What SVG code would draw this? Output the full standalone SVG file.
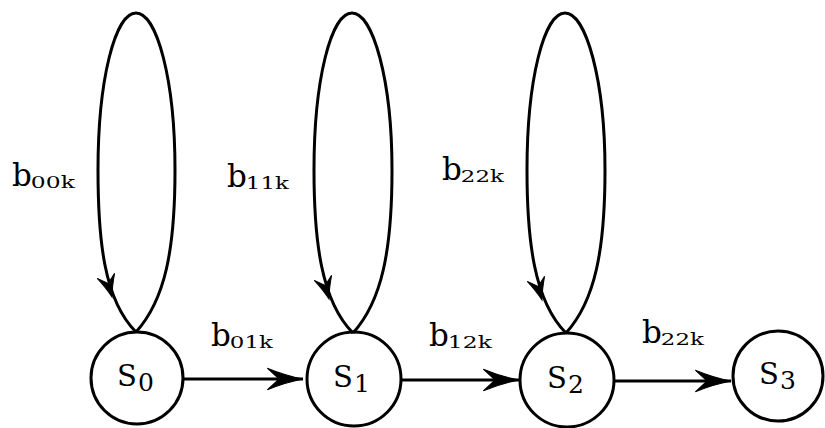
<svg xmlns="http://www.w3.org/2000/svg" xmlns:xlink="http://www.w3.org/1999/xlink" width="825" height="428" viewBox="0 0 825 428">
<defs>
<style>
.node{fill:none;stroke:#000;stroke-width:3}
.edge{fill:none;stroke:#000;stroke-width:3}
.lbl{font-family:"DejaVu Serif",serif;font-size:31px;fill:#000}
.sub{font-size:17px}
.nlbl{font-family:"DejaVu Serif",serif;font-size:29px;fill:#000}
.nsub{font-size:25px}
.head{fill:#000;stroke:#000;stroke-width:1}
</style>
<marker id="arr" markerUnits="userSpaceOnUse" markerWidth="40" markerHeight="30" viewBox="-35 -12 37 24" refX="0" refY="0" orient="auto">
<path class="head" d="M0,0 Q-16,-3 -33,-10 L-22,0 L-33,10 Q-16,3 0,0Z"/>
</marker>
<path id="lh" class="head" d="M0,0 Q-10,-3 -22,-9 L-14,0 L-22,9 Q-10,3 0,0Z"/>
</defs>
<g id="connectors">
<path id="loop0" class="edge" d="M136,332 C104,300 98,240 98,170 C98,80 115,13 136,13 C157,13 175,80 175,170 C175,250 165,300 136,332"/>
<use xlink:href="#lh" href="#lh" transform="translate(112,297) rotate(74)"/>
<path id="loop1" class="edge" d="M353,333 C321,301 314,240 314,170 C314,80 331,13 352,13 C373,13 392,80 392,170 C392,250 382,301 353,333"/>
<use xlink:href="#lh" href="#lh" transform="translate(329,299) rotate(74)"/>
<path id="loop2" class="edge" d="M566,333 C534,301 527,240 527,170 C527,80 544,13 565,13 C586,13 605,80 605,170 C605,250 595,301 566,333"/>
<use xlink:href="#lh" href="#lh" transform="translate(542,300) rotate(74)"/>
<path id="e01" class="edge" d="M184,379 L303,379" marker-end="url(#arr)"/>
<path id="e12" class="edge" d="M401,380 L519,380" marker-end="url(#arr)"/>
<path id="e23" class="edge" d="M614,381 L731,381" marker-end="url(#arr)"/>
</g>
<g id="labels">
<text class="lbl" x="12" y="186">b<tspan class="sub" dx="-1" dy="2" textLength="44" lengthAdjust="spacingAndGlyphs">00k</tspan></text>
<text class="lbl" x="227" y="187">b<tspan class="sub" dx="-1" dy="2" textLength="43" lengthAdjust="spacingAndGlyphs">11k</tspan></text>
<text class="lbl" x="442" y="180">b<tspan class="sub" dx="-1" dy="2" textLength="43" lengthAdjust="spacingAndGlyphs">22k</tspan></text>
<text class="lbl" x="211" y="346">b<tspan class="sub" dx="-1" dy="2" textLength="43" lengthAdjust="spacingAndGlyphs">01k</tspan></text>
<text class="lbl" x="429" y="346">b<tspan class="sub" dx="-1" dy="2" textLength="44" lengthAdjust="spacingAndGlyphs">12k</tspan></text>
<text class="lbl" x="642" y="343">b<tspan class="sub" dx="-1" dy="2" textLength="43" lengthAdjust="spacingAndGlyphs">22k</tspan></text>
</g>
<g id="S0"><circle class="node" cx="137" cy="378" r="46"/><text class="nlbl" x="117" y="386">S<tspan class="nsub" dx="1" dy="5">0</tspan></text></g>
<g id="S1"><circle class="node" cx="354" cy="379" r="47"/><text class="nlbl" x="333" y="387">S<tspan class="nsub" dx="1" dy="5">1</tspan></text></g>
<g id="S2"><circle class="node" cx="567" cy="380" r="47"/><text class="nlbl" x="547" y="388">S<tspan class="nsub" dx="1" dy="5">2</tspan></text></g>
<g id="S3"><circle class="node" cx="778" cy="376" r="45"/><text class="nlbl" x="759" y="384">S<tspan class="nsub" dx="1" dy="5">3</tspan></text></g>
</svg>
